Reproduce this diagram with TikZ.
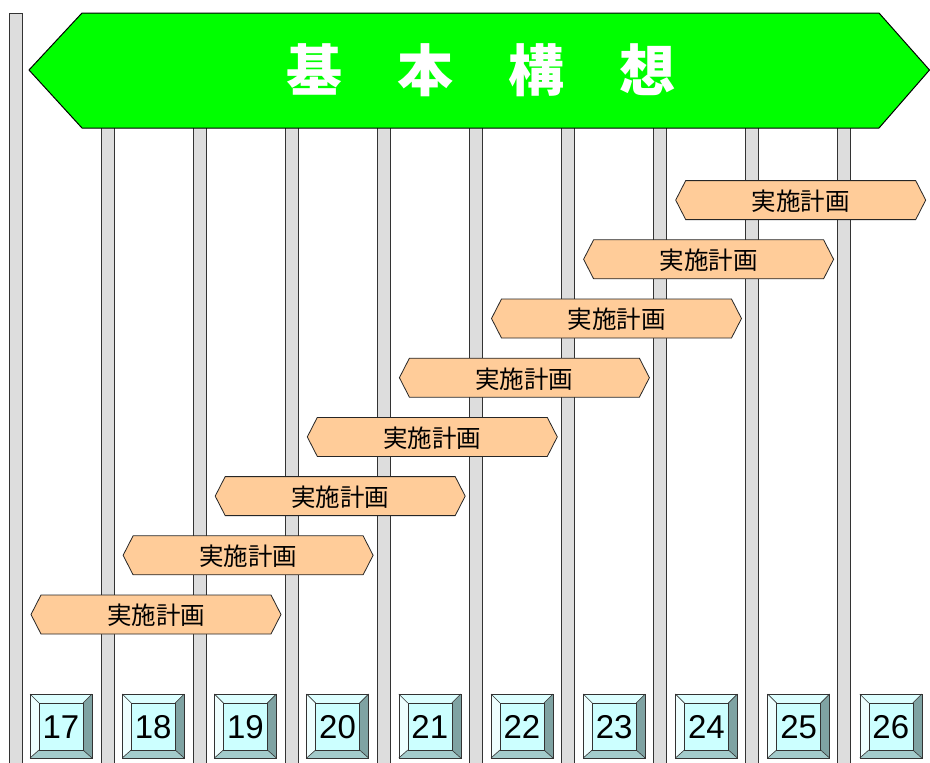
\documentclass[tikz,border=0pt]{standalone}
\usepackage{fontspec}
\setmainfont{Liberation Sans}
\newfontfamily\jp{Noto Sans CJK JP}
\definecolor{barfill}{HTML}{DDDDDD}
\definecolor{barline}{HTML}{333333}
\definecolor{signgreen}{HTML}{00FF00}
\definecolor{planfill}{HTML}{FFCC99}
\definecolor{faceC}{HTML}{CCFFFF}
\definecolor{topC}{HTML}{DDFFFF}
\definecolor{leftC}{HTML}{EEFFFF}
\definecolor{rightC}{HTML}{7FA3A3}
\definecolor{botC}{HTML}{A3CCCC}
\tikzset{
  barstyle/.style={fill=barfill, draw=barline, line width=0.9pt},
  signstyle/.style={fill=signgreen, draw=black, line width=1pt, line join=miter},
  planstyle/.style={fill=planfill, draw=black!85, line width=0.8pt},
  plantext/.style={font=\jp\fontsize{24.5}{24.5}\selectfont, inner sep=0pt},
  numtext/.style={font=\fontsize{33}{33}\selectfont, inner sep=0pt},
  bevline/.style={draw=black!80, line width=0.6pt},
}
\begin{document}
\begin{tikzpicture}[x=1pt,y=-1pt]
\useasboundingbox (0,0) rectangle (930,763);
\fill[white] (0,0) rectangle (930,763);
% vertical bars
\draw[barstyle] (9,13) rectangle (22,770);
\foreach \i in {0,...,8}{
  \pgfmathsetmacro\bx{101+92.1*\i}
  \draw[barstyle] (\bx,14) rectangle ({\bx+13},770);
}
% green title sign
\draw[signstyle] (29,70) -- (82,13) -- (879,13) -- (929.5,70) -- (879,128) -- (82,128) -- cycle;
\node[font=\jp\bfseries\fontsize{56}{56}\selectfont, text=white, inner sep=0pt] (title) at (481,70)
  {基\hspace{55pt}本\hspace{55pt}構\hspace{55pt}想};
% plan signs
\foreach \i in {0,...,7}{
  \pgfmathsetmacro\px{31+92.1*\i}
  \pgfmathsetmacro\py{614.5-59.2*\i}
  \draw[planstyle] (\px,\py) -- ({\px+10},{\py-19.5}) -- ({\px+240},{\py-19.5}) -- ({\px+250},\py)
     -- ({\px+240},{\py+19.5}) -- ({\px+10},{\py+19.5}) -- cycle;
  \node[plantext] (plan\i) at ({\px+125},{\py+1}) {実施計画};
}
% year boxes
\foreach \n [count=\k from 0] in {17,...,26}{
  \pgfmathsetmacro\L{30+92.2*\k}
  \pgfmathsetmacro\R{\L+62}
  \pgfmathsetmacro\il{\L+9}
  \pgfmathsetmacro\ir{\R-9}
  \fill[leftC] (\L,694) -- (\il,703) -- (\il,750) -- (\L,758) -- cycle;
  \fill[topC] (\L,694) -- (\R,694) -- (\ir,703) -- (\il,703) -- cycle;
  \fill[rightC] (\R,694) -- (\R,758) -- (\ir,750) -- (\ir,703) -- cycle;
  \fill[botC] (\L,758) -- (\R,758) -- (\ir,750) -- (\il,750) -- cycle;
  \fill[faceC] (\il,703) rectangle (\ir,750);
  \draw[bevline] (\L,694) rectangle (\R,758);
  \draw[bevline] (\il,703) rectangle (\ir,750);
  \draw[bevline] (\L,694) -- (\il,703) (\R,694) -- (\ir,703) (\L,758) -- (\il,750) (\R,758) -- (\ir,750);
  \node[numtext] (y\n) at ({\L+31},727) {\n};
}
\end{tikzpicture}
\end{document}
